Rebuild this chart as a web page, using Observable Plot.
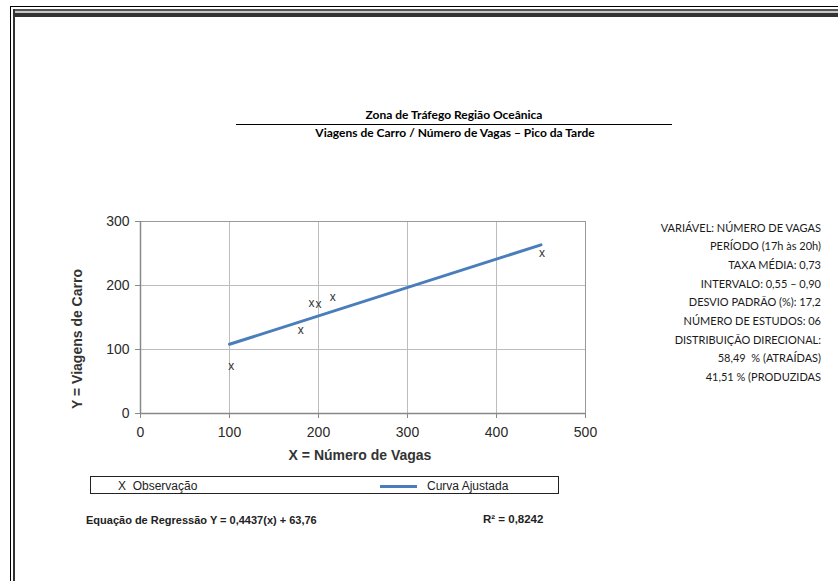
<!DOCTYPE html>
<html><head><meta charset="utf-8">
<script src="https://cdn.jsdelivr.net/npm/d3@7"></script>
<script src="https://cdn.jsdelivr.net/npm/@observablehq/plot@0.6"></script>
<style>
body{margin:0;background:#fff;}
#wrap{position:relative;width:838px;height:581px;overflow:hidden;font-family:"Liberation Sans",Arial,sans-serif;background:#fff;}
#chart{position:absolute;left:0;top:0;}
.abs{position:absolute;white-space:pre;line-height:1;}
.c{transform:translate(-50%,-50%);}
.l{transform:translate(0,-50%);}
.r{transform:translate(-100%,-50%);}
.ttl{font-family:Lato,"Open Sans",sans-serif;font-weight:bold;font-size:12px;color:#000;}
.info{font-family:Lato,"Open Sans",sans-serif;font-size:11px;color:#1a1a1a;}
</style></head>
<body><div id="wrap"></div>
<script>
// Observations (x = número de vagas, y = viagens de carro)
const obsX = [102, 180, 192, 200, 216, 451];
const obsY = [74, 131, 172, 171, 182, 251];
// Fitted line endpoints: Y = 0,4437(x) + 63,76
const fitX = [100, 450];
const fitY = [108.13, 263.43];
const xTicks = [0, 100, 200, 300, 400, 500];
const yTicks = [0, 100, 200, 300];
const infoLines = [
  "VARIÁVEL: NÚMERO DE VAGAS",
  "PERÍODO (17h às 20h)",
  "TAXA MÉDIA: 0,73",
  "INTERVALO: 0,55 – 0,90",
  "DESVIO PADRÃO (%): 17,2",
  "NÚMERO DE ESTUDOS: 06",
  "DISTRIBUIÇÃO DIRECIONAL:",
  "58,49  % (ATRAÍDAS)",
  "41,51 % (PRODUZIDAS"
];

const obs = obsX.map((x, i) => ({x, y: obsY[i]}));
const fit = fitX.map((x, i) => ({x, y: fitY[i]}));

const plot = Plot.plot({
  width: 838,
  height: 581,
  marginLeft: 140,
  marginRight: 253,
  marginTop: 221,
  marginBottom: 168,
  style: {fontFamily: '"Liberation Sans", Arial, sans-serif', fontSize: "14px", color: "#333", background: "transparent"},
  x: {domain: [0, 500], ticks: xTicks, tickSize: 5, tickPadding: 9, label: null},
  y: {domain: [0, 300], ticks: yTicks, tickSize: 5, tickPadding: 6, label: null},
  marks: [
    Plot.gridX(xTicks, {stroke: "#bdbdbd", strokeOpacity: 1}),
    Plot.gridY(yTicks, {stroke: "#bdbdbd", strokeOpacity: 1}),
    Plot.frame({stroke: "#999"}),
    Plot.ruleX([0], {stroke: "#888", strokeWidth: 1.5}),
    Plot.ruleY([0], {stroke: "#888", strokeWidth: 1.5}),
    Plot.axisX({ticks: xTicks, tickSize: 5, tickPadding: 9, stroke: "#888", fill: "#2a2a2a"}),
    Plot.axisY({ticks: yTicks, tickSize: 5, tickPadding: 6, stroke: "#888", fill: "#2a2a2a"}),
    Plot.line(fit, {x: "x", y: "y", stroke: "#4a7ebb", strokeWidth: 3}),
    Plot.text(obs, {x: "x", y: "y", text: () => "x", fontSize: 12, fill: "#333"})
  ]
});
plot.id = "chart";
const wrap = document.getElementById("wrap");
wrap.appendChild(plot);

function add(html, cls, left, top, extra) {
  const d = document.createElement("div");
  d.className = "abs " + cls;
  d.style.left = left + "px";
  d.style.top = top + "px";
  if (extra) Object.assign(d.style, extra);
  d.textContent = html;
  wrap.appendChild(d);
  return d;
}
// frame
add("", "", 10, 6, {width: "828px", height: "1px", background: "#000"});
add("", "", 10, 6, {width: "1px", height: "575px", background: "#000"});
add("", "", 13, 9, {width: "825px", height: "2px", background: "#555"});
add("", "", 13, 11, {width: "825px", height: "2px", background: "#c8c8c8"});
add("", "", 13, 13, {width: "825px", height: "4px", background: "#333"});
add("", "", 13, 9, {width: "2px", height: "572px", background: "#333"});

// titles
add("Zona de Tráfego Região Oceânica", "ttl c", 454, 115);
add("", "", 236, 123.5, {width: "436px", height: "1.5px", background: "#000"});
add("Viagens de Carro / Número de Vagas – Pico da Tarde", "ttl c", 455, 133);

// axis titles
add("X = Número de Vagas", "c", 360, 455, {fontWeight: "bold", fontSize: "14px", color: "#333"});
add("Y = Viagens de Carro", "", 77, 339, {fontWeight: "bold", fontSize: "14px", color: "#333", transform: "translate(-50%,-50%) rotate(-90deg)"});

// info block
infoLines.forEach((t, i) => add(t, "info r", 821, 226.5 + i * 18.7));

// legend
add("", "", 90, 476, {width: "469px", height: "18px", border: "1px solid #222", boxSizing: "border-box"});
add("X  Observação", "l", 118, 486, {fontSize: "12px", color: "#222"});
add("", "", 380, 484.5, {width: "37px", height: "3px", background: "#4a7ebb"});
add("Curva Ajustada", "l", 427, 486, {fontSize: "12px", color: "#222"});

// equation
add("Equação de Regressão Y = 0,4437(x) + 63,76", "l", 86, 520, {fontWeight: "bold", fontSize: "11px", color: "#222"});
add("R² = 0,8242", "l", 483, 520, {fontWeight: "bold", fontSize: "11.5px", color: "#222"});
</script>
</body></html>
